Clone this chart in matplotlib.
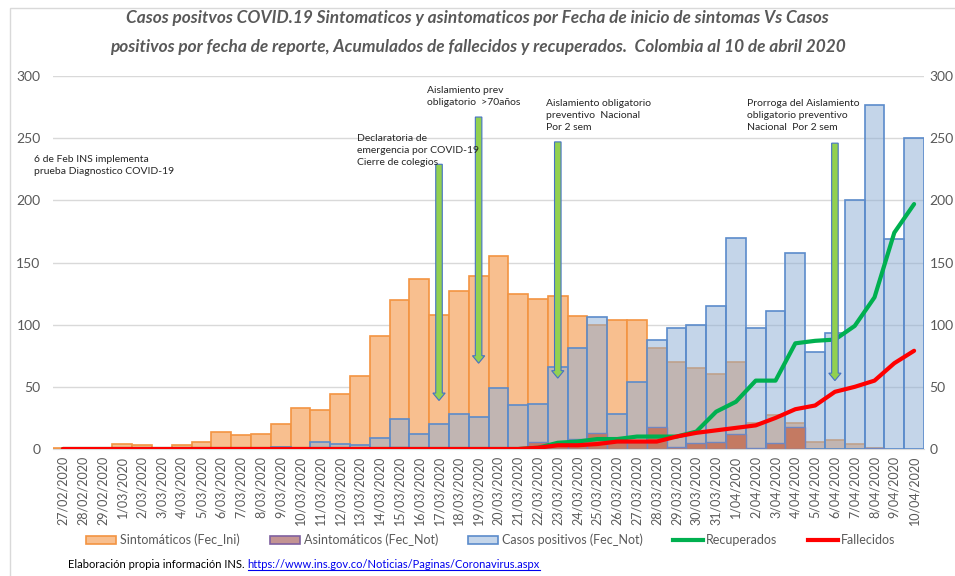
import numpy as np
import matplotlib
matplotlib.use("Agg")
import matplotlib.pyplot as plt
from matplotlib.patches import FancyArrow, Rectangle, Patch
from matplotlib.lines import Line2D

plt.rcParams['font.family'] = ['Lato', 'DejaVu Sans']

fechas = ['27/02/2020', '28/02/2020', '29/02/2020',
          '1/03/2020', '2/03/2020', '3/03/2020', '4/03/2020', '5/03/2020', '6/03/2020',
          '7/03/2020', '8/03/2020', '9/03/2020', '10/03/2020', '11/03/2020', '12/03/2020',
          '13/03/2020', '14/03/2020', '15/03/2020', '16/03/2020', '17/03/2020', '18/03/2020',
          '19/03/2020', '20/03/2020', '21/03/2020', '22/03/2020', '23/03/2020', '24/03/2020',
          '25/03/2020', '26/03/2020', '27/03/2020', '28/03/2020', '29/03/2020', '30/03/2020',
          '31/03/2020', '1/04/2020', '2/04/2020', '3/04/2020', '4/04/2020', '5/04/2020',
          '6/04/2020', '7/04/2020', '8/04/2020', '9/04/2020', '10/04/2020']

sintomaticos = [1, 1, 1, 4, 3, 0, 3, 6, 14, 11, 12, 20, 33, 31, 44, 59, 91, 120, 137, 108,
                127, 139, 155, 125, 121, 123, 107, 100, 104, 104, 81, 70, 65, 60, 70, 21, 27,
                21, 6, 7, 4, 1, 0, 0]

asintomaticos = [0, 0, 0, 0, 0, 0, 0, 0, 0, 0, 0, 0, 0, 0, 0, 0, 0, 2, 0, 1,
                 0, 0, 1, 0, 6, 3, 8, 13, 6, 6, 18, 2, 5, 6, 12, 1, 5,
                 18, 0, 0, 0, 1, 0, 0]

casos_positivos = [0, 0, 0, 0, 0, 0, 0, 0, 1, 0, 0, 2, 0, 6, 4, 3, 9, 24, 12, 20,
                   28, 26, 49, 35, 36, 66, 81, 106, 28, 54, 88, 97, 100, 115, 170, 97, 111,
                   158, 78, 93, 200, 277, 169, 250]

recuperados = [0, 0, 0, 0, 0, 0, 0, 0, 0, 0, 0, 0, 0, 0, 0, 0, 0, 0, 0, 0,
               0, 0, 0, 0, 1, 5, 6, 8, 8, 10, 10, 10, 14, 30, 38, 55, 55,
               85, 87, 88, 99, 122, 174, 197]

fallecidos = [0, 0, 0, 0, 0, 0, 0, 0, 0, 0, 0, 0, 0, 0, 0, 0, 0, 0, 0, 0,
              0, 0, 0, 0, 1, 3, 3, 4, 6, 6, 6, 10, 13, 15, 17, 19, 25,
              32, 35, 46, 50, 55, 69, 79]

y_ticks = [0, 50, 100, 150, 200, 250, 300]

# annotations: (text, left px, top px)
eventos = [
    ("6 de Feb INS implementa\nprueba Diagnostico COVID-19", 34, 155),
    ("Declaratoria de\nemergencia por COVID-19\nCierre de colegios", 357, 134),
    ("Aislamiento prev\nobligatorio  >70años", 427, 86),
    ("Aislamiento obligatorio\npreventivo  Nacional\nPor 2 sem", 546, 99),
    ("Prorroga del Aislamiento\nobligatorio preventivo\nNacional  Por 2 sem", 747, 99),
]
# arrows: (category index, top value, bottom value)
flechas = [(19, 229, 39), (21, 267, 69), (25, 247, 57), (39, 246, 55)]

W, H = 955, 576
fig = plt.figure(figsize=(W / 100, H / 100), dpi=100)
fig.patch.set_facecolor('white')
ax = fig.add_axes([53 / W, 127 / H, 871 / W, 373 / H])

x = np.arange(len(fechas))

def nz(vals):
    v = np.array(vals, dtype=float)
    m = v > 0
    return x[m], v[m]

xs, vs = nz(sintomaticos)
ax.bar(xs, vs, width=1.0, color='#F8BF8F', edgecolor='#F39442', linewidth=1.2, zorder=2)
xs, vs = nz(casos_positivos)
ax.bar(xs, vs, width=1.0, color=(139 / 255, 173 / 255, 213 / 255, 0.5),
       edgecolor='#5B8BCB', linewidth=1.2, zorder=3)
xs, vs = nz(asintomaticos)
ax.bar(xs, vs, width=1.0, color='#C47A62', edgecolor='#7086C0', linewidth=1.0, zorder=4)

ax.plot(x, recuperados, color='#00B050', lw=3, zorder=5, solid_capstyle='round')
ax.plot(x, fallecidos, color='#FF0000', lw=3, zorder=6, solid_capstyle='round')

for (ci, top, bot) in flechas:
    ar = FancyArrow(ci, top, 0, bot - top, width=0.33, head_width=0.62, head_length=6,
                    length_includes_head=True, facecolor='#92D050', edgecolor='#4472C4',
                    linewidth=0.8, zorder=7)
    ax.add_patch(ar)

ax.set_xlim(-0.5, len(fechas) - 0.5)
ax.set_ylim(0, 300)
ax.set_yticks(y_ticks)
ax.yaxis.grid(True, color='#D9D9D9', linewidth=1.0, zorder=0)
ax.set_axisbelow(True)
for s in ['top', 'right', 'left']:
    ax.spines[s].set_visible(False)
ax.spines['bottom'].set_color('#D9D9D9')
ax.set_xticks(x)
ax.set_xticklabels(fechas, rotation=90, fontsize=9, color='#595959')
ax.tick_params(axis='x', length=0, pad=5)
ax.tick_params(axis='y', length=0, pad=9, labelsize=10, labelcolor='#595959')

ax2 = ax.twinx()
ax2.set_ylim(0, 300)
ax2.set_yticks(y_ticks)
for s in ['top', 'right', 'left', 'bottom']:
    ax2.spines[s].set_visible(False)
ax2.tick_params(axis='y', length=0, pad=4, labelsize=10, labelcolor='#595959')

# frame
fig.add_artist(Rectangle((10 / W, -0.1), 1.2, 1.1 - 8 / H, transform=fig.transFigure,
                         fill=False, edgecolor='#D9D9D9', linewidth=1.0))

# title
fig.text(0.5, 1 - 18 / H, "Casos positvos COVID.19 Sintomaticos y asintomaticos por Fecha de inicio de sintomas Vs Casos",
         ha='center', va='center', fontsize=12.4, fontweight='bold', style='italic', color='#595959')
fig.text(0.5, 1 - 47 / H, "positivos por fecha de reporte, Acumulados de fallecidos y recuperados.  Colombia al 10 de abril 2020",
         ha='center', va='center', fontsize=12.4, fontweight='bold', style='italic', color='#595959')

for (txt, px, py) in eventos:
    fig.text(px / W, 1 - py / H, txt, ha='left', va='top', fontsize=7.5, color='#262626',
             linespacing=1.4)

# legend
handles = [
    Patch(facecolor='#F8BF8F', edgecolor='#F39442', linewidth=1.2),
    Patch(facecolor='#C39393', edgecolor='#7F60A0', linewidth=1.2),
    Patch(facecolor='#C5D6EA', edgecolor='#5B8BCB', linewidth=1.2),
    Line2D([0], [0], color='#00B050', lw=3),
    Line2D([0], [0], color='#FF0000', lw=3),
]
labels = ['Sintomáticos (Fec_Ini)', 'Asintomáticos (Fec_Not)', 'Casos positivos (Fec_Not)',
          'Recuperados', 'Fallecidos']
fig.legend(handles, labels, loc='center', bbox_to_anchor=(491 / W, 1 - 540 / H), ncol=5,
           frameon=False, fontsize=9, labelcolor='#595959', handlelength=2.4,
           handleheight=0.6, handletextpad=0.3, columnspacing=2.4)

# footer
t1 = fig.text(68 / W, 1 - 565 / H, "Elaboración propia información INS. ", ha='left', va='center',
              fontsize=8, color='black')
fig.canvas.draw()
r = fig.canvas.get_renderer()
bb = t1.get_window_extent(r)
x2 = bb.x1 / W
t2 = fig.text(x2, 1 - 565 / H, "https://www.ins.gov.co/Noticias/Paginas/Coronavirus.aspx",
              ha='left', va='center', fontsize=8, color='#0000EE')
bb2 = t2.get_window_extent(r)
fig.add_artist(Line2D([bb2.x0 / W, bb2.x1 / W], [(bb2.y0 + 1) / H, (bb2.y0 + 1) / H],
                      transform=fig.transFigure, color='#0000EE', lw=0.8))

fig.savefig('out.png', dpi=100, facecolor='white')
